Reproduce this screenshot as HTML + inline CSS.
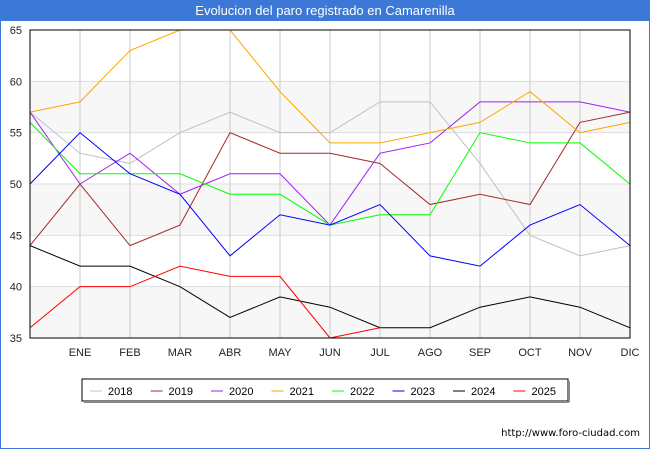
<!DOCTYPE html>
<html><head><meta charset="utf-8"><style>
body{margin:0;width:650px;height:450px;background:#fff;font-family:"Liberation Sans","DejaVu Sans",sans-serif;overflow:hidden;position:relative}
.title{position:absolute;left:0;top:0;width:650px;height:21px;background:#3b78d8;color:#fff;font-size:13px;text-align:center;line-height:22px}
.frame{position:absolute;left:0;top:21px;width:648px;height:427px;border:1px solid #3b78d8;border-top:none}
.url{position:absolute;right:10px;top:428px;font-size:10px;font-family:"DejaVu Sans",sans-serif}
</style></head><body>
<div class="title">Evolucion del paro registrado en Camarenilla</div>
<div class="frame"></div>
<svg id="chart" width="650" height="450" style="position:absolute;left:0;top:0"></svg>
<div class="url">http://www.foro-ciudad.com</div>
<script>
const months=["","ENE","FEB","MAR","ABR","MAY","JUN","JUL","AGO","SEP","OCT","NOV","DIC"];
const yTicks=[35,40,45,50,55,60,65];
const years=["2018","2019","2020","2021","2022","2023","2024","2025"];
const colors=["#c0c0c0","#a52a2a","#a020f0","#ffa500","#00ff00","#0000ff","#000000","#ff0000"];
const s2018=[57,53,52,55,57,55,55,58,58,52,45,43,44];
const s2019=[44,50,44,46,55,53,53,52,48,49,48,56,57];
const s2020=[57,50,53,49,51,51,46,53,54,58,58,58,57];
const s2021=[57,58,63,65,65,59,54,54,55,56,59,55,56];
const s2022=[56,51,51,51,49,49,46,47,47,55,54,54,50];
const s2023=[50,55,51,49,43,47,46,48,43,42,46,48,44];
const s2024=[44,42,42,40,37,39,38,36,36,38,39,38,36];
const s2025=[36,40,40,42,41,41,35,36];
const series=[s2018,s2019,s2020,s2021,s2022,s2023,s2024,s2025];
const NS="http://www.w3.org/2000/svg";
const svg=document.getElementById("chart");
const L=30,R=630,T=30,B=338,yMin=35,yMax=65;
const x=i=>L+i*(R-L)/12;
const y=v=>B-(v-yMin)*(B-T)/(yMax-yMin);
function mk(t,a){const e=document.createElementNS(NS,t);for(const k in a)e.setAttribute(k,a[k]);svg.appendChild(e);return e;}
const defs=mk("defs",{});const cp=document.createElementNS(NS,"clipPath");cp.setAttribute("id","clip");
const cr=document.createElementNS(NS,"rect");cr.setAttribute("x",L);cr.setAttribute("y",T);cr.setAttribute("width",R-L);cr.setAttribute("height",B-T);cp.appendChild(cr);defs.appendChild(cp);
for(let i=0;i<yTicks.length-1;i++){if(i%2==0){const b=mk("rect",{x:L,y:y(yTicks[i+1]),width:R-L,height:y(yTicks[i])-y(yTicks[i+1]),fill:"#f7f7f7"});

}}
yTicks.forEach(v=>{const g=mk("line",{x1:L,x2:R,y1:y(v),y2:y(v),stroke:"#dddddd"});


const t=mk("text",{x:L-8,y:y(v)+4,"text-anchor":"end","font-size":"11",fill:"#222"});t.textContent=v;

});
months.forEach((m,i)=>{if(i>0){const g=mk("line",{x1:x(i),x2:x(i),y1:T,y2:B,stroke:"#c8c8c8"});


const t=mk("text",{x:x(i),y:B+18,"text-anchor":"middle","font-size":"11",fill:"#222"});t.textContent=m;

}});
series.forEach((s,k)=>{const p=mk("polyline",{points:s.map((v,i)=>x(i)+","+y(v)).join(" "),fill:"none",stroke:colors[k],"stroke-width":"1","clip-path":"url(#clip)"});

});
const fr=mk("rect",{x:L,y:T,width:R-L,height:B-T,fill:"none",stroke:"#000"});


const lg=mk("rect",{x:82,y:379,width:486,height:22,fill:"#fff",stroke:"#000"});


mk("line",{x1:84,x2:569,y1:402,y2:402,stroke:"#888","stroke-width":"2"});
mk("line",{x1:569,x2:569,y1:381,y2:402,stroke:"#888","stroke-width":"2"});
years.forEach((yr,k)=>{const lx=90+k*60.5;
const l=mk("line",{x1:lx,x2:lx+12,y1:391,y2:391,stroke:colors[k]});


const t=mk("text",{x:lx+18,y:395,"font-size":"11",fill:"#000"});t.textContent=yr;

});
</script>
</body></html>
